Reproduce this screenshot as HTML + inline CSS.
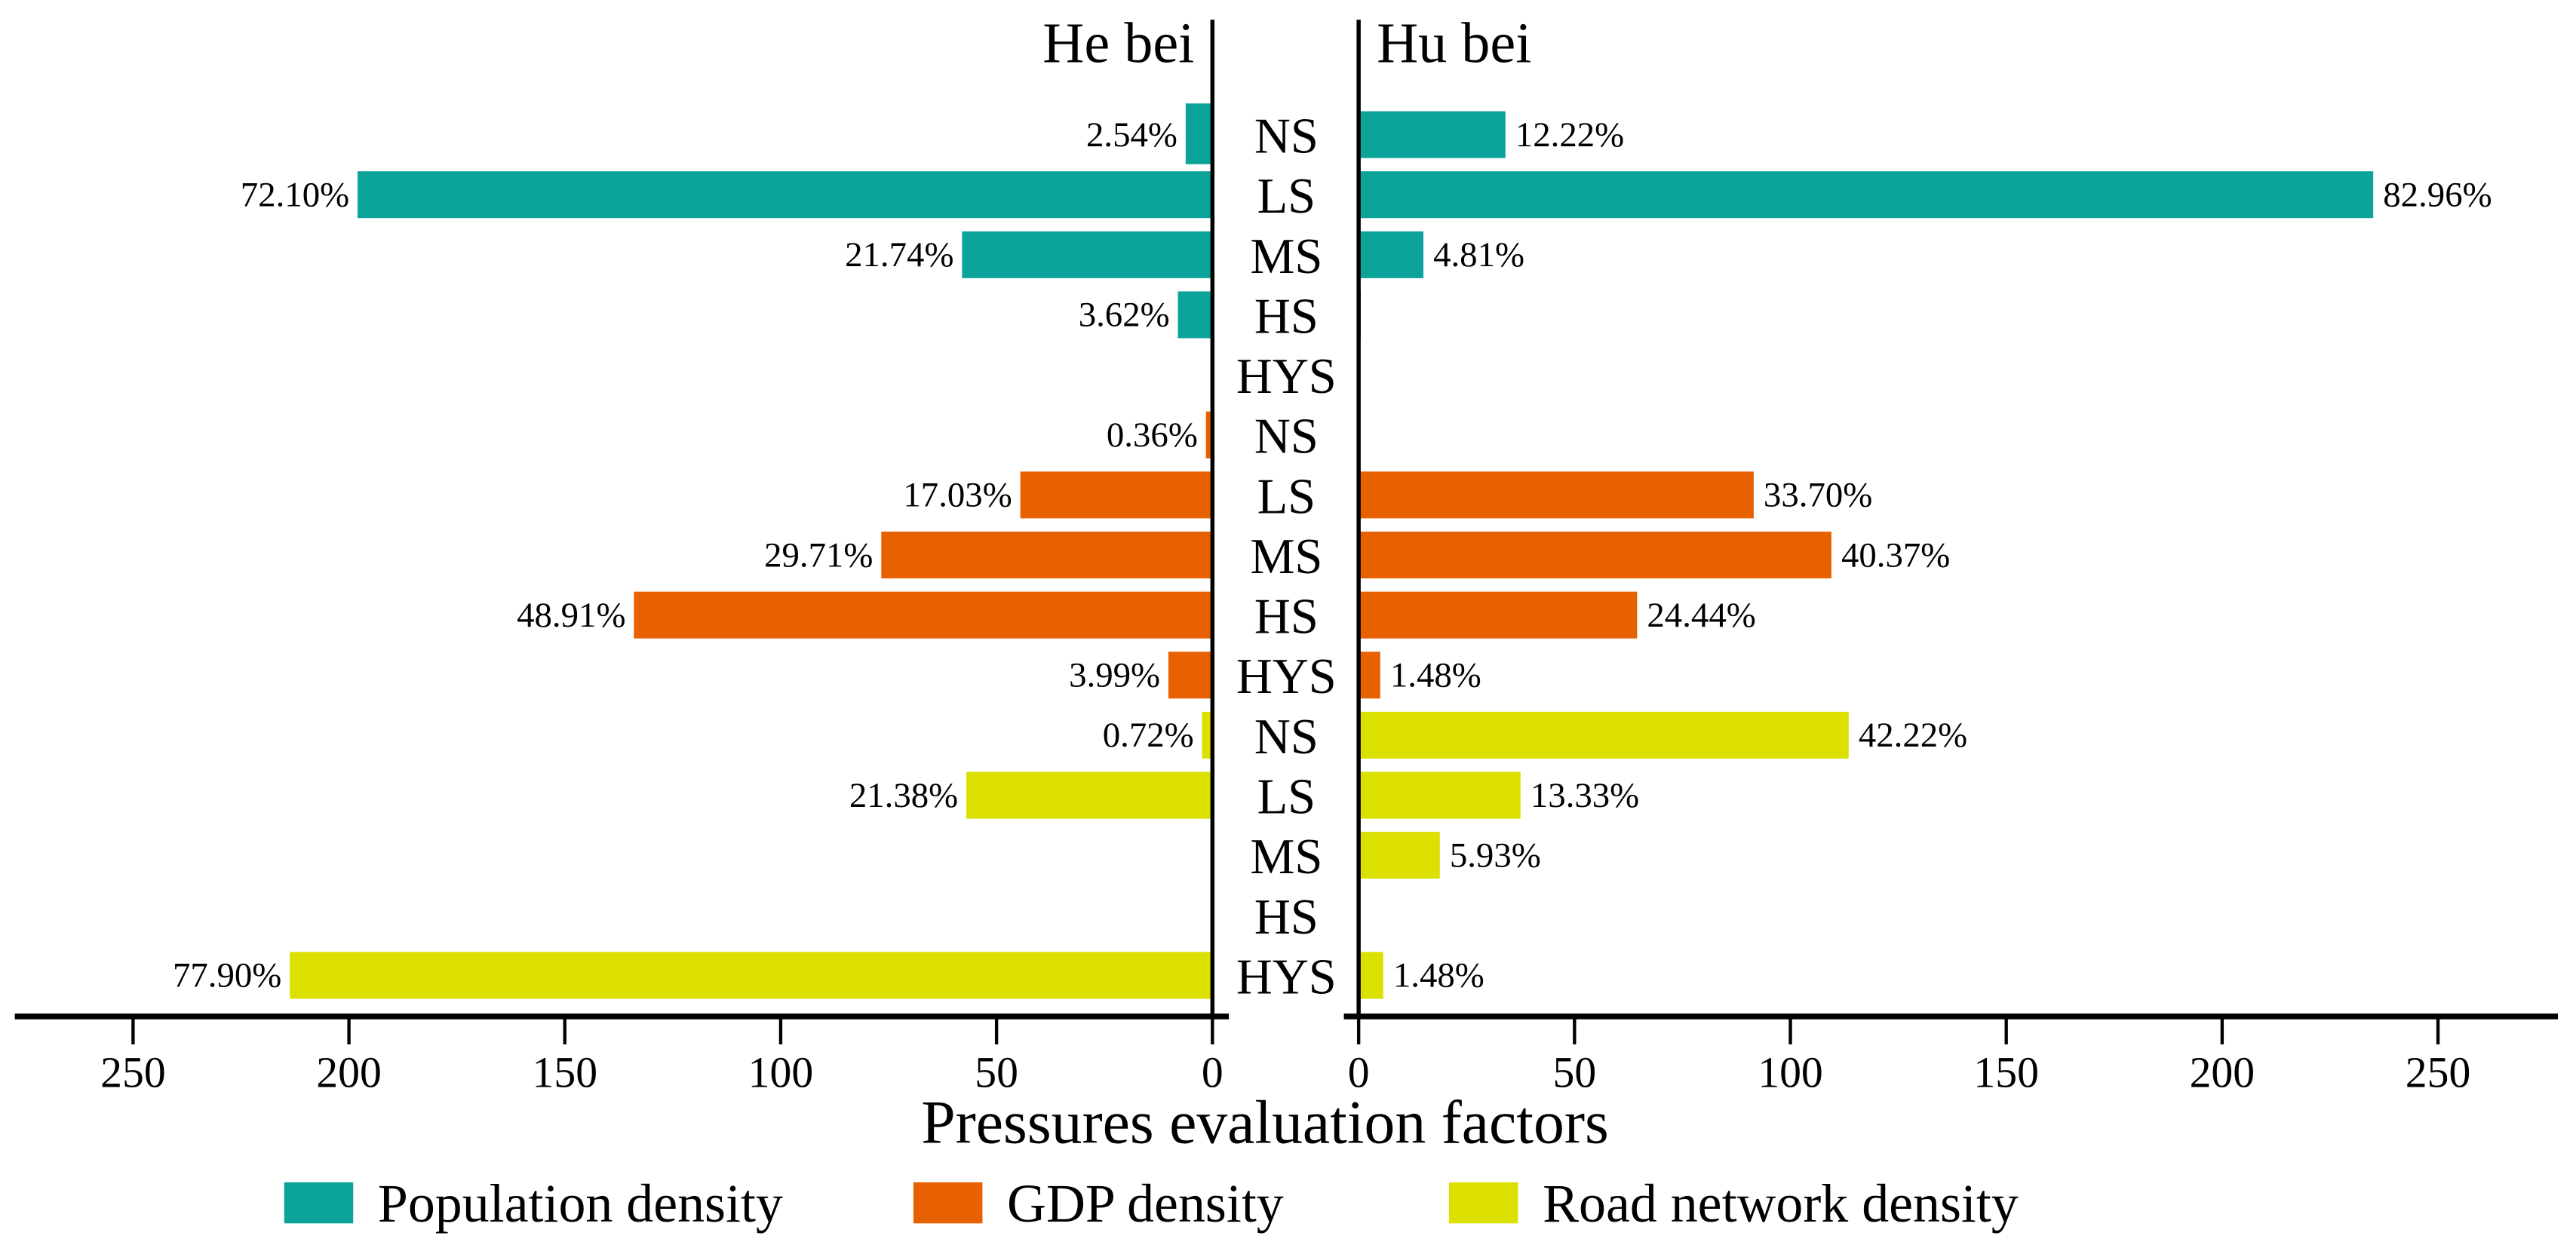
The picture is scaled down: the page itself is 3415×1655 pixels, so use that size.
<!DOCTYPE html>
<html><head><meta charset="utf-8"><style>
html,body{margin:0;padding:0;background:#fff;}
svg{display:block;}
text{font-family:"Liberation Serif",serif;fill:#000;}
</style></head><body>
<svg id="chart" width="3415" height="1655" viewBox="0 0 1568 760" preserveAspectRatio="none" xmlns="http://www.w3.org/2000/svg">
<g id="bars"></g>
<g id="axes"></g>
</svg>
<script>
const categories = ["NS","LS","MS","HS","HYS","NS","LS","MS","HS","HYS","NS","LS","MS","HS","HYS"];
const seriesOfRow = [0,0,0,0,0,1,1,1,1,1,2,2,2,2,2];
const heBeiValues = [6.2, 198, 58, 8, 0, 1.5, 44.5, 76.7, 134, 10.2, 2.4, 57, 0, 0, 213.7];
const huBeiValues = [34, 235, 15, 0.5, 0.3, 0, 91.5, 109.5, 64.5, 5, 113.5, 37.5, 18.8, 0, 5.7];
const heBeiLabels = ["2.54%","72.10%","21.74%","3.62%","","0.36%","17.03%","29.71%","48.91%","3.99%","0.72%","21.38%","","","77.90%"];
const huBeiLabels = ["12.22%","82.96%","4.81%","","","","33.70%","40.37%","24.44%","1.48%","42.22%","13.33%","5.93%","","1.48%"];
const tickValues = [0,50,100,150,200,250];
const seriesNames = ["Population density","GDP density","Road network density"];
const seriesColors = ["#0ca39b","#e86100","#dbe000"];

const NS = "http://www.w3.org/2000/svg";
const leftZero = 738, rightZero = 827, pxPerUnit = 2.628;
const xLeft = v => leftZero - v * pxPerUnit;
const xRight = v => rightZero + v * pxPerUnit;
const rowY = i => 82 + i * 36.57;
const barH = 28.5;
function mk(tag, attrs, parent, txt){
  const e = document.createElementNS(NS, tag);
  for (const k in attrs) e.setAttribute(k, attrs[k]);
  if (txt !== undefined) e.textContent = txt;
  parent.appendChild(e);
  return e;
}
const bars = document.getElementById('bars');
const axes = document.getElementById('axes');

categories.forEach((c, i) => {
  const y = rowY(i);
  const col = seriesColors[seriesOfRow[i]];
  const lv = heBeiValues[i], rv = huBeiValues[i];
  if (lv > 0) {
    const h = (i === 0) ? 37 : barH;
    const r = mk('rect', {x: xLeft(lv), y: y - h/2 + (i===0?-0.5:0), width: leftZero - xLeft(lv), height: h, fill: col}, bars);
    
    
  }
  if (rv > 0) {
    const r = mk('rect', {x: rightZero, y: y - barH/2, width: xRight(rv) - rightZero, height: barH, fill: col}, bars);
    
    
  }
  if (heBeiLabels[i]) {
    const t = mk('text', {x: xLeft(lv) - 5, y: y + 7, 'font-size': 21.5, 'text-anchor': 'end'}, bars, heBeiLabels[i]);
    
    
  }
  if (huBeiLabels[i]) {
    const t = mk('text', {x: xRight(rv) + 6, y: y + 7, 'font-size': 21.5}, bars, huBeiLabels[i]);
    
    
  }
  const ct = mk('text', {x: 783, y: y + 11, 'font-size': 30.5, 'text-anchor': 'middle'}, axes, c);
  
  
});

let e;
e = mk('line', {x1: leftZero, y1: 12, x2: leftZero, y2: 620, stroke: '#000', 'stroke-width': 2.5}, axes);
 
e = mk('line', {x1: rightZero, y1: 12, x2: rightZero, y2: 620, stroke: '#000', 'stroke-width': 2.5}, axes);
 
e = mk('line', {x1: 9, y1: 619, x2: 748, y2: 619, stroke: '#000', 'stroke-width': 3.5}, axes);
 
e = mk('line', {x1: 818, y1: 619, x2: 1557, y2: 619, stroke: '#000', 'stroke-width': 3.5}, axes);
 

tickValues.forEach(v => {
  [xLeft(v), xRight(v)].forEach((x, k) => {
    const tk = mk('line', {x1: x, y1: 619, x2: x, y2: 636, stroke: '#000', 'stroke-width': 2}, axes);
    
    
    const tl = mk('text', {x: x, y: 662, 'font-size': 26.5, 'text-anchor': 'middle'}, axes, String(v));
    
    
  });
});

e = mk('text', {x: 727, y: 38, 'font-size': 35, 'text-anchor': 'end'}, axes, 'He bei');
 
e = mk('text', {x: 838, y: 38, 'font-size': 35}, axes, 'Hu bei');
 
e = mk('text', {x: 770, y: 696, 'font-size': 37.5, 'text-anchor': 'middle'}, axes, 'Pressures evaluation factors');
 

const legX = [173, 556, 882];
seriesNames.forEach((n, k) => {
  const g = mk('g', {}, axes);
  
  
  mk('rect', {x: legX[k], y: 720, width: 42, height: 25, fill: seriesColors[k]}, g);
  mk('text', {x: legX[k] + 57, y: 744, 'font-size': 33}, g, n);
});
</script>
</body></html>
